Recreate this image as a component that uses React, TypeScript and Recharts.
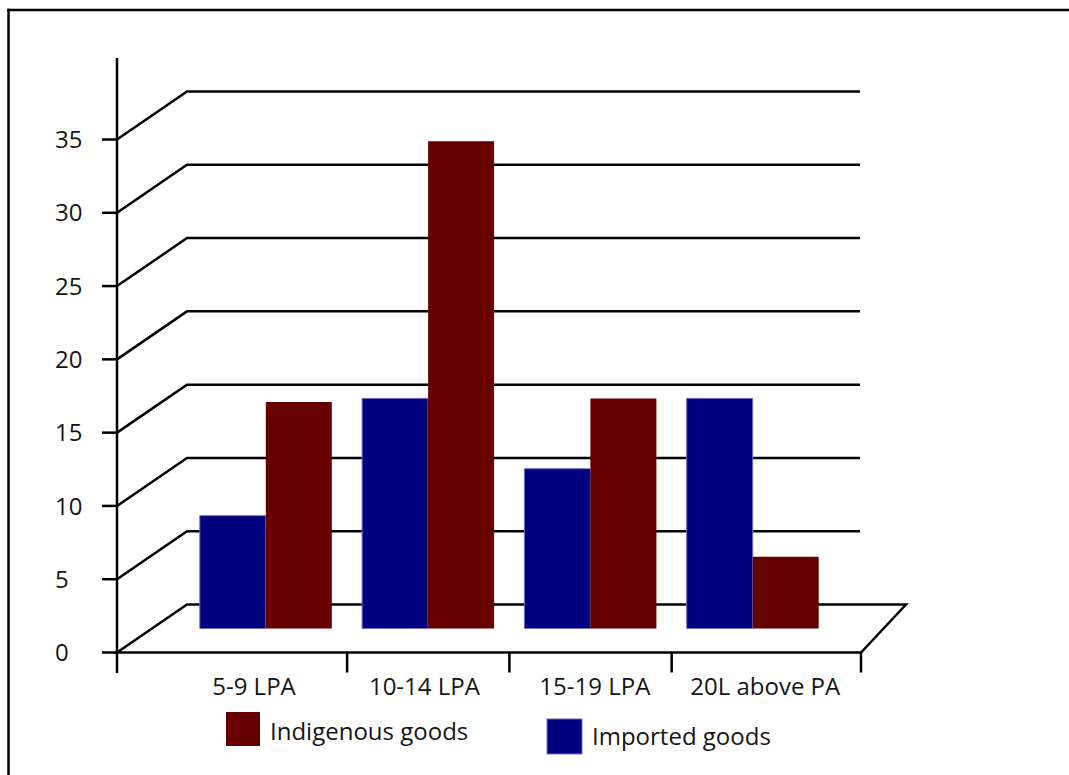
import React from 'react';
import { BarChart, Bar, XAxis, YAxis, CartesianGrid, Legend, Customized } from 'recharts';

// Salary bands and the share of respondents preferring each kind of goods
const categories = ['5-9 LPA', '10-14 LPA', '15-19 LPA', '20L above PA'];
const importedGoods = [7.7, 15.7, 10.9, 15.7];
const indigenousGoods = [15.45, 33.25, 15.7, 4.9];
const yTicks = [0, 5, 10, 15, 20, 25, 30, 35];

const seriesNames = { imported: 'Imported goods', indigenous: 'Indigenous goods' };
const seriesColors = { imported: '#000080', indigenous: '#660000' };

const data = categories.map((category, i) => ({
  category,
  imported: importedGoods[i],
  indigenous: indigenousGoods[i],
}));

// Layout of the pseudo-3D box (the plot area is the middle plane where bars stand)
const W = 1069;
const H = 775;
const FONT = '"Open Sans", "DejaVu Sans", sans-serif';
const TEXT = '#151515';
const INK = '#000';
const LW = 2.5;
const DEPTH = 24; // vertical shift from the middle plane to the front / back planes
const PLOT_LEFT = 184.8;
const PLOT_RIGHT = 834;
const PLOT_TOP = 115.5;
const PLOT_BOTTOM = 628.5;
const BAND = (PLOT_RIGHT - PLOT_LEFT) / categories.length;
const FRONT_X = 117;
const BACK_X = 187;
const BACK_RIGHT = 860;
const FLOOR_BACK_RIGHT = 906;
const FLOOR_FRONT_RIGHT = 861;
const X_AXIS_H = 40;

// Back wall gridline with its diagonal to the front axis; the zero line becomes the floor
const WallLine = (props: any) => {
  const { y1, index } = props;
  const backY = y1 - DEPTH;
  const frontY = y1 + DEPTH;
  if (Math.abs(y1 - PLOT_BOTTOM) < 1) {
    return (
      <path
        key={`wall-${index}`}
        d={`M${FRONT_X},${frontY} L${BACK_X},${backY} L${FLOOR_BACK_RIGHT},${backY} L${FLOOR_FRONT_RIGHT},${frontY} Z`}
        fill="none"
        stroke={INK}
        strokeWidth={LW}
        strokeLinejoin="miter"
      />
    );
  }
  return (
    <path
      key={`wall-${index}`}
      d={`M${FRONT_X},${frontY} L${BACK_X},${backY} L${BACK_RIGHT},${backY}`}
      fill="none"
      stroke={INK}
      strokeWidth={LW}
    />
  );
};

// Value labels and tick marks on the front vertical axis
const YTick = (props: any) => {
  const { y, payload } = props;
  const fy = y + DEPTH;
  return (
    <g>
      <line x1={102} x2={FRONT_X} y1={fy} y2={fy} stroke={INK} strokeWidth={LW} />
      <text
        x={55}
        y={fy}
        dy="0.36em"
        textAnchor="start"
        fontSize={24}
        fontFamily={FONT}
        fill={TEXT}
      >
        {payload.value}
      </text>
    </g>
  );
};

// Category labels on the front edge of the floor, with separators between bands
const XTick = (props: any) => {
  const { x, payload, index, visibleTicksCount } = props;
  const frontY = PLOT_BOTTOM + DEPTH;
  const labelX = x + (x - 505) * 0.05;
  const isLast = index === visibleTicksCount - 1;
  return (
    <g>
      {index > 0 && (
        <line x1={x - BAND / 2} x2={x - BAND / 2} y1={frontY} y2={frontY + 20} stroke={INK} strokeWidth={LW} />
      )}
      {isLast && (
        <line x1={FLOOR_FRONT_RIGHT} x2={FLOOR_FRONT_RIGHT} y1={frontY} y2={frontY + 20} stroke={INK} strokeWidth={LW} />
      )}
      <text x={labelX} y={695} textAnchor="middle" fontSize={24} fontFamily={FONT} fill={TEXT}>
        {payload.value}
      </text>
    </g>
  );
};

// Outer frame and the front vertical axis line
const FrameLines = () => (
  <g>
    <line x1={7.3} x2={W} y1={10} y2={10} stroke={INK} strokeWidth={2.5} />
    <line x1={8.5} x2={8.5} y1={8.8} y2={H} stroke={INK} strokeWidth={2.5} />
    <line x1={FRONT_X} x2={FRONT_X} y1={58} y2={673} stroke={INK} strokeWidth={LW} />
  </g>
);

const legendSpots = [
  { sx: 226, sy: 712, size: 34, tx: 270, ty: 740 },
  { sx: 547, sy: 719, size: 35, tx: 592, ty: 745 },
];

const LegendContent = (props: any) => {
  const items = [...(props.payload || [])].reverse();
  return (
    <svg width={W} height={H} style={{ position: 'absolute', left: 0, top: 0, overflow: 'visible' }}>
      {items.map((item: any, i: number) => {
        const s = legendSpots[i];
        return (
          <g key={item.value}>
            <rect
              x={s.sx}
              y={s.sy}
              width={s.size}
              height={s.size}
              fill={item.color}
              stroke={i === 1 ? '#6f6fc4' : 'none'}
              strokeWidth={1}
            />
            <text x={s.tx} y={s.ty} fontSize={24} fontFamily={FONT} fill={TEXT}>
              {item.value}
            </text>
          </g>
        );
      })}
    </svg>
  );
};

export default function App() {
  return (
    <div style={{ position: 'absolute', left: 0, top: 0, width: W, height: H, background: '#fff' }}>
      <BarChart
        width={W}
        height={H}
        data={data}
        margin={{ top: PLOT_TOP, right: W - PLOT_RIGHT, bottom: H - PLOT_BOTTOM - X_AXIS_H, left: 0 }}
        barCategoryGap={15}
        barGap={0}
      >
        <CartesianGrid vertical={false} horizontal={WallLine} />
        <XAxis
          dataKey="category"
          height={X_AXIS_H}
          axisLine={false}
          tickLine={false}
          interval={0}
          tick={XTick}
        />
        <YAxis
          width={PLOT_LEFT}
          domain={[0, 35]}
          ticks={yTicks}
          interval={0}
          axisLine={false}
          tickLine={false}
          tick={YTick}
        />
        <Bar
          dataKey="imported"
          name={seriesNames.imported}
          fill={seriesColors.imported}
          stroke="#6f6fc4"
          strokeWidth={1}
          isAnimationActive={false}
        />
        <Bar
          dataKey="indigenous"
          name={seriesNames.indigenous}
          fill={seriesColors.indigenous}
          isAnimationActive={false}
        />
        <Legend
          layout="horizontal"
          verticalAlign="middle"
          align="center"
          wrapperStyle={{ position: 'absolute', left: 0, top: 0, width: W, height: 0 }}
          content={LegendContent}
        />
        <Customized component={FrameLines} />
      </BarChart>
    </div>
  );
}
